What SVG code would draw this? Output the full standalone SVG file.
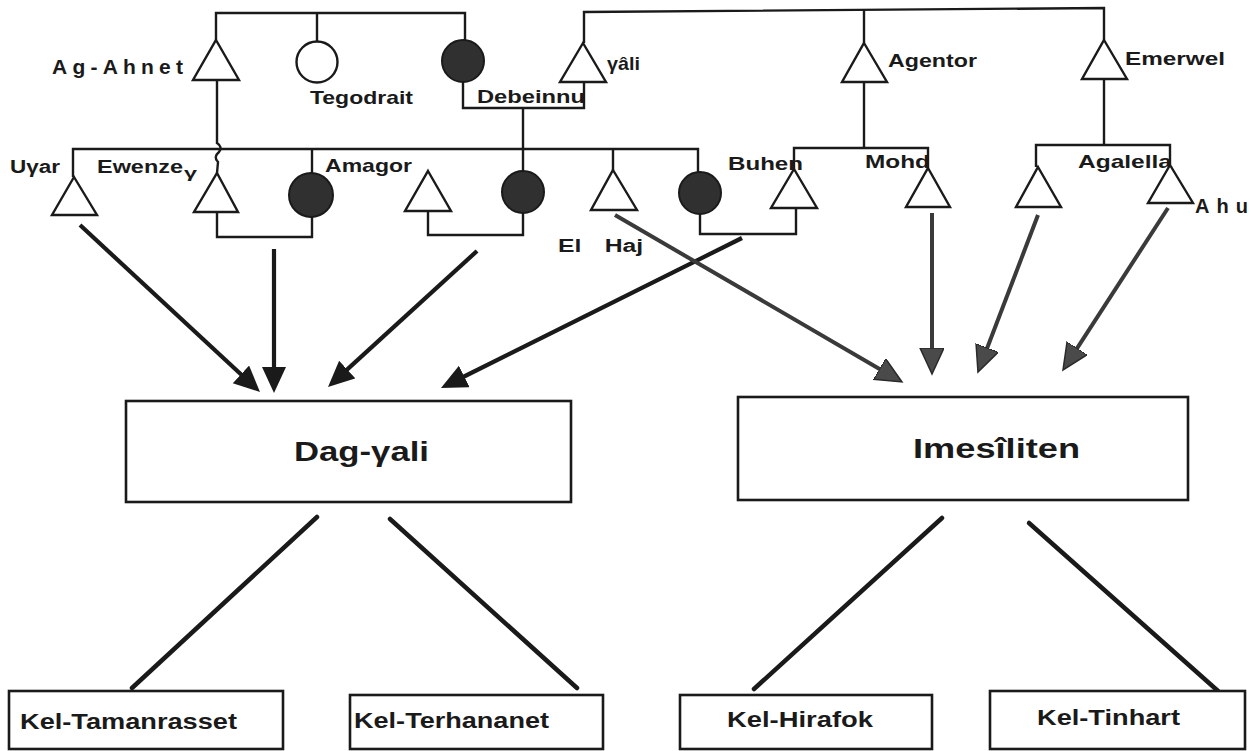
<svg xmlns="http://www.w3.org/2000/svg" width="1251" height="751" viewBox="0 0 1251 751">
<style>
.t{font-family:"Liberation Sans",Arial,sans-serif;font-weight:bold;fill:#1a1a1a}
.ln{fill:none;stroke:#1a1a1a;stroke-width:2.4;stroke-linejoin:miter}
.sym{fill:#fff;stroke:#1a1a1a;stroke-width:2.4;stroke-linejoin:miter}
.fc{fill:#303030;stroke:#1a1a1a;stroke-width:2}
.box{fill:#fff;stroke:#1a1a1a;stroke-width:2.6}
.ar{fill:none;stroke:#1a1a1a;stroke-width:4.2;marker-end:url(#ah)}
.ar2{fill:none;stroke:#3a3a3a;stroke-width:4;marker-end:url(#ah2)}
.br{fill:none;stroke:#1a1a1a;stroke-width:4.5;stroke-linecap:round}
</style>
<defs>
<marker id="ah" markerUnits="userSpaceOnUse" markerWidth="28" markerHeight="26" refX="8" refY="12" orient="auto">
<path d="M0,0 L26,12 L0,24 z" fill="#1a1a1a"/>
</marker>
<marker id="ah2" markerUnits="userSpaceOnUse" markerWidth="28" markerHeight="26" refX="8" refY="12" orient="auto">
<path d="M0,0 L26,12 L0,24 z" fill="#4a4a4a" stroke="#2a2a2a" stroke-width="1.5"/>
</marker>
</defs>
<rect width="1251" height="751" fill="#fff"/>

<g id="connectors">
<!-- kinship lines -->
<path class="ln" d="M216,40 L216,13 L465,13 L465,40"/>
<path class="ln" d="M317,13 L317,41"/>
<path class="ln" d="M584,43 L584,12 L1104,8 L1104,40"/>
<path class="ln" d="M864,10 L864,43"/>
<path class="ln" d="M463,82 L463,108 L584,108 L584,82"/>
<path class="ln" d="M523,108 L523,149"/>
<path class="ln" d="M217,80 L217,143 Q223,147 219,152 Q213,157 218,162 L217,173"/>
<path class="ln" d="M73,177 L73,149 L698,149 L698,172"/>
<path class="ln" d="M312,149 L312,173"/>
<path class="ln" d="M523,149 L523,171"/>
<path class="ln" d="M613,149 L613,170"/>
<path class="ln" d="M864,82 L864,148"/>
<path class="ln" d="M794,169 L794,148 L928,148 L928,168"/>
<path class="ln" d="M1104,79 L1104,145"/>
<path class="ln" d="M1036,167 L1036,145 L1170,145 L1170,165"/>
<path class="ln" d="M217,212 L217,237 L312,237 L312,217"/>
<path class="ln" d="M428,211 L428,235 L523,235 L523,213"/>
<path class="ln" d="M700,214 L700,234 L796,234 L796,208"/>
<!-- arrows to Dag-yali -->
<line class="ar" x1="80" y1="225" x2="246.8" y2="379.8"/>
<line class="ar" x1="274" y1="249" x2="274" y2="375"/>
<line class="ar" x1="477" y1="251" x2="341.3" y2="374.9"/>
<line class="ar" x1="742" y1="238" x2="457.1" y2="380"/>
<!-- arrows to Imesiliten -->
<line class="ar2" x1="615" y1="215" x2="886.4" y2="372.9"/>
<line class="ar2" x1="932" y1="213" x2="932" y2="356"/>
<line class="ar2" x1="1038" y1="215" x2="984.4" y2="355.2"/>
<line class="ar2" x1="1168" y1="208" x2="1072.8" y2="354.9"/>
<!-- branches -->
<line class="br" x1="317" y1="517" x2="132" y2="688"/>
<line class="br" x1="390" y1="519" x2="577" y2="688"/>
<line class="br" x1="942" y1="518" x2="754" y2="689"/>
<line class="br" x1="1029" y1="523" x2="1218" y2="691"/>
</g>

<g id="ag-ahnet"><path class="sym" d="M216,40 L239,80 L193,80 z"/><text class="t" x="52" y="74" font-size="21" textLength="131" lengthAdjust="spacing">Ag-Ahnet</text></g>
<g id="tegodrait"><circle class="sym" cx="317" cy="62" r="20.5"/><text class="t" x="310" y="104" font-size="19" textLength="103" lengthAdjust="spacingAndGlyphs">Tegodrait</text></g>
<g id="debeinnu"><circle class="fc" cx="463" cy="61" r="21"/><text class="t" x="477" y="103" font-size="19" textLength="108" lengthAdjust="spacingAndGlyphs">Debeinnu</text></g>
<g id="gali"><path class="sym" d="M583,43 L606,82 L560,82 z"/><text class="t" x="607" y="70" font-size="19" textLength="33" lengthAdjust="spacingAndGlyphs">γâli</text></g>
<g id="agentor"><path class="sym" d="M864,43 L887,82 L842,82 z"/><text class="t" x="888" y="67" font-size="19" textLength="89" lengthAdjust="spacingAndGlyphs">Agentor</text></g>
<g id="emerwel"><path class="sym" d="M1104,40 L1127,79 L1082,79 z"/><text class="t" x="1125" y="65" font-size="19" textLength="100" lengthAdjust="spacingAndGlyphs">Emerwel</text></g>

<g id="uyar"><path class="sym" d="M74,177 L97,215 L52,215 z"/><text class="t" x="10" y="173" font-size="18" textLength="50" lengthAdjust="spacingAndGlyphs">Uγar</text></g>
<g id="ewenzey"><path class="sym" d="M217,173 L238,212 L194,212 z"/><text class="t" x="97" y="173" font-size="18" textLength="86" lengthAdjust="spacingAndGlyphs">Ewenze</text><text class="t" x="184" y="178" font-size="15" textLength="13" lengthAdjust="spacingAndGlyphs">γ</text></g>
<g id="amagor"><circle class="fc" cx="311" cy="195" r="22"/><text class="t" x="325" y="172" font-size="19" textLength="87" lengthAdjust="spacingAndGlyphs">Amagor</text></g>
<g id="son3"><path class="sym" d="M428,171 L451,211 L405,211 z"/></g>
<g id="daughter523"><circle class="fc" cx="523" cy="192" r="21"/></g>
<g id="el-haj"><path class="sym" d="M613,170 L637,210 L591,210 z"/><text class="t" transform="translate(558 252) scale(1.3 1)" x="0" y="0" font-size="19">El <tspan x="36">Haj</tspan></text></g>
<g id="daughter700"><circle class="fc" cx="700" cy="193" r="21"/></g>
<g id="buhen"><path class="sym" d="M794,169 L817,208 L771,208 z"/><text class="t" x="728" y="170" font-size="19" textLength="75" lengthAdjust="spacingAndGlyphs">Buhen</text></g>
<g id="mohd"><path class="sym" d="M928,168 L950,207 L906,207 z"/><text class="t" x="865" y="168" font-size="19" textLength="65" lengthAdjust="spacingAndGlyphs">Mohd</text></g>
<g id="son-emerwel"><path class="sym" d="M1038,167 L1061,207 L1016,207 z"/></g>
<g id="agalella"><text class="t" x="1078" y="168" font-size="19" textLength="94" lengthAdjust="spacingAndGlyphs">Agalella</text></g>
<g id="ahu"><path class="sym" d="M1170,165 L1193,203 L1148,203 z"/><text class="t" x="1195" y="213" font-size="20" textLength="53" lengthAdjust="spacing">Ahu</text></g>

<g id="dag-yali"><rect class="box" x="126" y="401" width="445" height="101"/><text class="t" x="294" y="461" font-size="27" textLength="135" lengthAdjust="spacingAndGlyphs">Dag-γali</text></g>
<g id="imesiliten"><rect class="box" x="738" y="397" width="450" height="103"/><text class="t" x="913" y="458" font-size="27" textLength="167" lengthAdjust="spacingAndGlyphs">Imesîliten</text></g>

<g id="kel-tamanrasset"><rect class="box" x="9" y="691" width="274" height="58"/><text class="t" x="20" y="729" font-size="22" textLength="217" lengthAdjust="spacingAndGlyphs">Kel-Tamanrasset</text></g>
<g id="kel-terhananet"><rect class="box" x="350" y="695" width="253" height="54"/><text class="t" x="354" y="728" font-size="22" textLength="195" lengthAdjust="spacingAndGlyphs">Kel-Terhananet</text></g>
<g id="kel-hirafok"><rect class="box" x="680" y="695" width="252" height="54"/><text class="t" x="727" y="727" font-size="22" textLength="146" lengthAdjust="spacingAndGlyphs">Kel-Hirafok</text></g>
<g id="kel-tinhart"><rect class="box" x="990" y="691" width="255" height="58"/><text class="t" x="1037" y="725" font-size="22" textLength="143" lengthAdjust="spacingAndGlyphs">Kel-Tinhart</text></g>
</svg>
